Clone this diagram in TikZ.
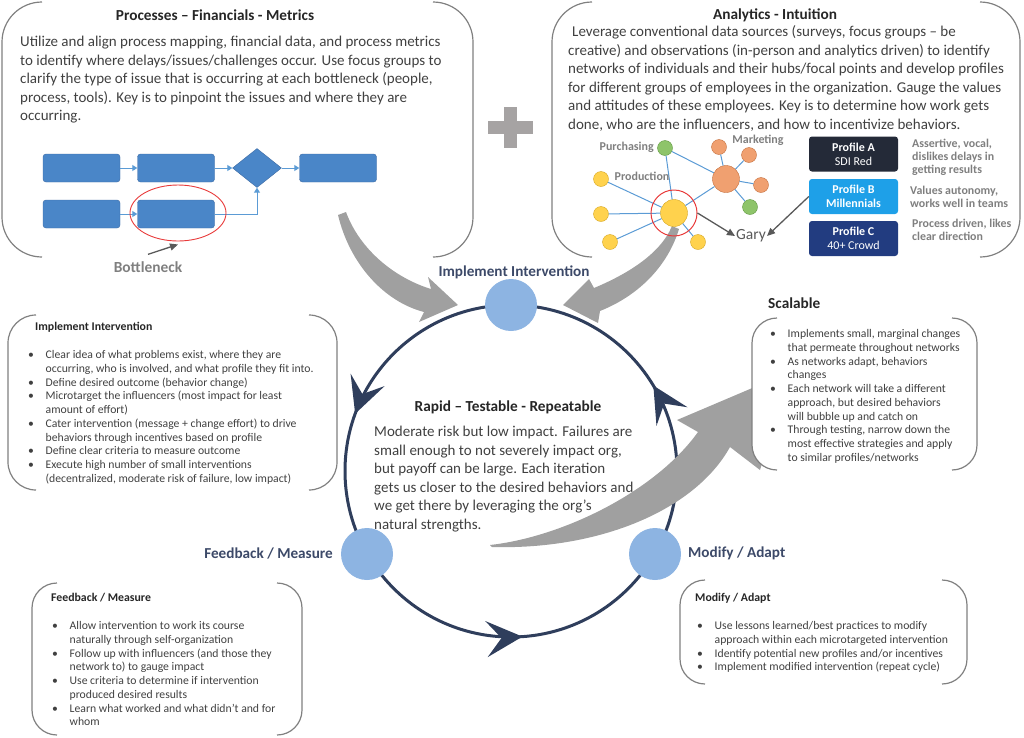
\documentclass[tikz,border=0pt]{standalone}
\usepackage{fontspec}
\setmainfont{Carlito}
\usetikzlibrary{arrows.meta,shapes.geometric,decorations.markings}
\definecolor{ringc}{RGB}{47,62,92}
\definecolor{ringnode}{RGB}{141,180,226}
\definecolor{arrgray}{RGB}{160,160,160}
\definecolor{txt}{RGB}{64,64,64}
\definecolor{lbl}{RGB}{60,73,104}
\definecolor{brk}{RGB}{128,128,128}
\definecolor{procb}{RGB}{74,134,200}
\definecolor{procd}{RGB}{60,106,163}
\definecolor{linkb}{RGB}{91,155,213}
\definecolor{redc}{RGB}{232,58,58}
\definecolor{ptrc}{RGB}{89,89,89}
\definecolor{nameg}{RGB}{127,127,127}
\definecolor{plusg}{RGB}{166,163,163}
\definecolor{yel}{RGB}{255,210,77}
\definecolor{yeld}{RGB}{214,165,30}
\definecolor{ora}{RGB}{240,160,112}
\definecolor{orad}{RGB}{196,110,60}
\definecolor{grn}{RGB}{142,196,106}
\definecolor{grnd}{RGB}{94,150,62}
\definecolor{profA}{RGB}{36,42,56}
\definecolor{profB}{RGB}{30,160,232}
\definecolor{profC}{RGB}{34,60,128}
% bracket pair: x1, y1, x2, y2, corner
\newcommand{\brackbox}[5]{%
  \draw[brack, rounded corners=#5] (#1+#5,#2) -- (#1,#2) -- (#1,#4) -- (#1+#5,#4);
  \draw[brack, rounded corners=#5] (#3-#5,#2) -- (#3,#2) -- (#3,#4) -- (#3-#5,#4);}
\newcommand{\bul}{\makebox[17.5pt][l]{\textbullet}}
\newcommand{\ind}{\hspace*{17.5pt}}

\begin{document}
\begin{tikzpicture}[x=1pt,y=-1pt,
  brack/.style={draw=brk, line width=1.2pt},
  body/.style={font=\fontsize{15}{18.5}\selectfont, text=txt, align=left, inner sep=0, anchor=base west},
  note/.style={font=\fontsize{11.7}{13.75}\selectfont, text=txt, align=left, inner sep=0, anchor=base west},
  head/.style={font=\bfseries\fontsize{15.3}{17}\selectfont, text=black!85, inner sep=0},
  subhead/.style={font=\bfseries\fontsize{11.8}{13}\selectfont, text=black!85, inner sep=0, anchor=base west},
  steplbl/.style={font=\bfseries\fontsize{15.2}{17}\selectfont, text=lbl, inner sep=0},
  procbox/.style={fill=procb, draw=procd, rounded corners=3pt, minimum width=77, minimum height=28, inner sep=0},
  flow/.style={draw=linkb, line width=1pt, -{Triangle[length=5pt,width=6pt]}},
  ptr/.style={draw=ptrc, line width=1.3pt, -{Triangle[length=8pt,width=7pt]}},
  link/.style={draw=linkb, line width=1pt},
  ynode/.style={circle, fill=yel, draw=yeld, inner sep=0, minimum size=15},
  onode/.style={circle, fill=ora, draw=orad, inner sep=0, minimum size=15},
  gnode/.style={circle, fill=grn, draw=grnd, inner sep=0, minimum size=15},
  netlbl/.style={font=\bfseries\fontsize{12}{14}\selectfont, text=nameg, inner sep=0},
  prof/.style={fill=#1, rounded corners=3pt, minimum width=89, minimum height=35, text=white, align=center, font=\fontsize{12}{14}\selectfont, inner sep=0},
  profnote/.style={font=\bfseries\fontsize{11.9}{13.2}\selectfont, text=nameg, align=left, inner sep=0, anchor=base west},
  ringdot/.style={circle, fill=ringnode, minimum size=52, inner sep=0},
  bigarrow/.style={fill=arrgray}
]
\useasboundingbox (0,0) rectangle (1024,737);

% processes box
\brackbox{2}{2}{473}{257}{40}
\node[head] (ptitle) at (215,15) {Processes – Financials - Metrics};
\node[body] (ptext) at (20,120.5) {Utilize and align process mapping, financial data, and process metrics\\
to identify where delays/issues/challenges occur.  Use focus groups to\\
clarify the type of issue that is occurring at each bottleneck (people,\\
process, tools). Key is to pinpoint the issues and where they are\\
occurring.};
\node[procbox] (p1) at (81.5,168) {};
\node[procbox] (p2) at (176,168) {};
\node[diamond, fill=procb, draw=procd, minimum width=49, minimum height=39, inner sep=0] (dd) at (257,168) {};
\node[procbox] (p3) at (338,168) {};
\node[procbox] (p4) at (81.5,214) {};
\node[procbox] (p5) at (176,214) {};
\draw[flow] (p1) -- (p2);
\draw[flow] (p2) -- (dd);
\draw[flow] (dd) -- (p3);
\draw[flow] (p4) -- (p5);
\draw[flow] (p5.east) -| (dd.south);
\node[draw=redc, line width=0.9pt, ellipse, minimum width=96, minimum height=56, inner sep=0] (bn) at (178,213) {};
\node[font=\bfseries\fontsize{15.4}{17}\selectfont, text=nameg, inner sep=0] (bl) at (148,267) {Bottleneck};
\draw[ptr] ([yshift=7pt]bl.north) -- ([yshift=-3pt]bn.south);

% plus
\fill[plusg] (504,107) rectangle (517,148);
\fill[plusg] (488,121) rectangle (533,134);

% analytics box
\brackbox{552}{2}{1020}{257}{40}
\node[head] (atitle) at (775,15) {Analytics - Intuition};
\node[body] (atext) at (568,129) {\hspace*{4pt}Leverage conventional data sources (surveys, focus groups – be\\
creative) and observations (in-person and analytics driven) to identify\\
networks of individuals and their hubs/focal points and develop profiles\\
for different groups of employees in the organization.  Gauge the values\\
and attitudes of these employees.  Key is to determine how work gets\\
done, who are the influencers, and how to incentivize behaviors.};

% gray arrows into the cycle
\fill[bigarrow] (346,212) .. controls (360,250) and (395,278) .. (431,289) -- (428,277) -- (458,305)
  -- (419,322) -- (424,312) .. controls (385,302) and (350,265) .. (338,215) -- cycle;
\fill[bigarrow] (672,226) .. controls (660,255) and (625,275) .. (594,288) -- (589,279) -- (563,305)
  -- (598,323) -- (600,311) .. controls (640,295) and (668,265) .. (679,229) -- cycle;

% network
\node[ynode, minimum size=27] (y0) at (674,213) {};
\node[gnode] (g1) at (665,148) {};
\node[onode, minimum size=27] (o0) at (726,179) {};
\node[onode] (o1) at (719,147) {};
\node[onode] (o2) at (749,155) {};
\node[onode] (o3) at (761,185) {};
\node[gnode] (g2) at (750,207) {};
\node[ynode] (y1) at (601,179) {};
\node[ynode] (y2) at (601,214) {};
\node[ynode] (y3) at (610,242) {};
\node[ynode] (y4) at (698,242) {};
\foreach \n in {g1,o0,y1,y2,y3,y4} \draw[link] (y0) -- (\n);
\foreach \n in {o1,o2,o3,g2} \draw[link] (o0) -- (\n);
\draw[link] (g1) -- (o0);
\node[draw=redc, line width=1pt, circle, minimum size=46, inner sep=0] (hub) at (674,213) {};
\node[netlbl, anchor=east] (npur) at (654,147) {Purchasing};
\node[netlbl] (nmar) at (758,140) {Marketing};
\node[netlbl] (npro) at (642,176) {Production};
\node[font=\fontsize{15.5}{17}\selectfont, text=ptrc, inner sep=1] (gary) at (751,236) {Gary};

% profiles
\node[prof=profA] (pa) at (853.5,154) {\textbf{Profile A}\\SDI Red};
\node[prof=profB] (pb) at (853.5,196.5) {\textbf{Profile B}\\\textbf{Millennials}};
\node[prof=profC] (pc) at (853.5,238.5) {\textbf{Profile C}\\40+ Crowd};
\node[profnote] (na) at (912,173.9) {Assertive, vocal,\\dislikes delays in\\getting results};
\node[profnote] (nb) at (910,207.2) {Values autonomy,\\works well in teams};
\node[profnote] (nc) at (912,240.7) {Process driven, likes\\clear direction};
\draw[ptr] (hub.east) -- (gary.west);
\draw[ptr] (pb.west) -- (gary.east);

% cycle
\coordinate (c) at (511,471);
\draw[ringc, line width=3pt, decoration={markings,
    mark=at position 0.194 with {\arrow{Stealth[length=36pt,width=36pt,inset=15pt]}},
    mark=at position 0.511 with {\arrow{Stealth[length=36pt,width=36pt,inset=15pt]}},
    mark=at position 0.836 with {\arrow{Stealth[length=36pt,width=36pt,inset=15pt]}}},
  postaction=decorate] (c) ++(270:166) arc[start angle=270, end angle=-90, radius=166];
\node[ringdot] (ni) at (511,305) {};
\node[ringdot] (nf) at (367,554) {};
\node[ringdot] (nm) at (655,554) {};

% scalable arrow
\fill[bigarrow] (490,545) .. controls (562,537) and (655,492) .. (698,432) -- (677,420) -- (790,372)
  -- (760,470) -- (730,447) .. controls (695,510) and (600,550) .. (492,547) -- cycle;

\node[steplbl] (limpl) at (514,272) {Implement Intervention};
\node[steplbl, anchor=east] (lfeed) at (333,553) {Feedback / Measure};
\node[steplbl, anchor=west] (lmod) at (688,553) {Modify / Adapt};
\node[head] (rtitle) at (508,407) {Rapid – Testable - Repeatable};
\node[body] (rtext) at (374,529) {Moderate risk but low impact.  Failures are\\
small enough to not severely impact org,\\
but payoff can be large.  Each iteration\\
gets us closer to the desired behaviors and\\
we get there by leveraging the org’s\\
natural strengths.};

% scalable box
\node[head, anchor=west] (lscal) at (768,303) {Scalable};
\fill[white, rounded corners=25pt] (752,318) rectangle (977,470);
\brackbox{752}{318}{977}{470}{25}
\node[note] (stext) at (770,461.25) {\bul Implements small, marginal changes\\
\ind that permeate throughout networks\\
\bul As networks adapt, behaviors\\
\ind changes\\
\bul Each network will take a different\\
\ind approach, but desired behaviors\\
\ind will bubble up and catch on\\
\bul Through testing, narrow down the\\
\ind most effective strategies and apply\\
\ind to similar profiles/networks};

% implement box
\brackbox{8}{315}{337}{490}{28}
\node[subhead] (ititle) at (35,330) {Implement Intervention};
\node[note] (itext) at (28,482.25) {\bul Clear idea of what problems exist, where they are\\
\ind occurring, who is involved, and what profile they fit into.\\
\bul Define desired outcome (behavior change)\\
\bul Microtarget the influencers (most impact for least\\
\ind amount of effort)\\
\bul Cater intervention (message + change effort) to drive\\
\ind behaviors through incentives based on profile\\
\bul Define clear criteria to measure outcome\\
\bul Execute high number of small interventions\\
\ind (decentralized, moderate risk of failure, low impact)};

% feedback box
\brackbox{32}{583}{302}{735}{25}
\node[subhead] (ftitle) at (51,601) {Feedback / Measure};
\node[note] (ftext) at (52,725.75) {\bul Allow intervention to work its course\\
\ind naturally through self-organization\\
\bul Follow up with influencers (and those they\\
\ind network to) to gauge impact\\
\bul Use criteria to determine if intervention\\
\ind produced desired results\\
\bul Learn what worked and what didn’t and for\\
\ind whom};

% modify box
\brackbox{680}{580}{967}{684}{25}
\node[subhead] (mtitle) at (695,601) {Modify  / Adapt};
\node[note] (mtext) at (697,670.75) {\bul Use lessons learned/best practices to modify\\
\ind approach within each microtargeted intervention\\
\bul Identify potential new profiles and/or incentives\\
\bul Implement modified intervention (repeat cycle)};
\end{tikzpicture}
\end{document}
